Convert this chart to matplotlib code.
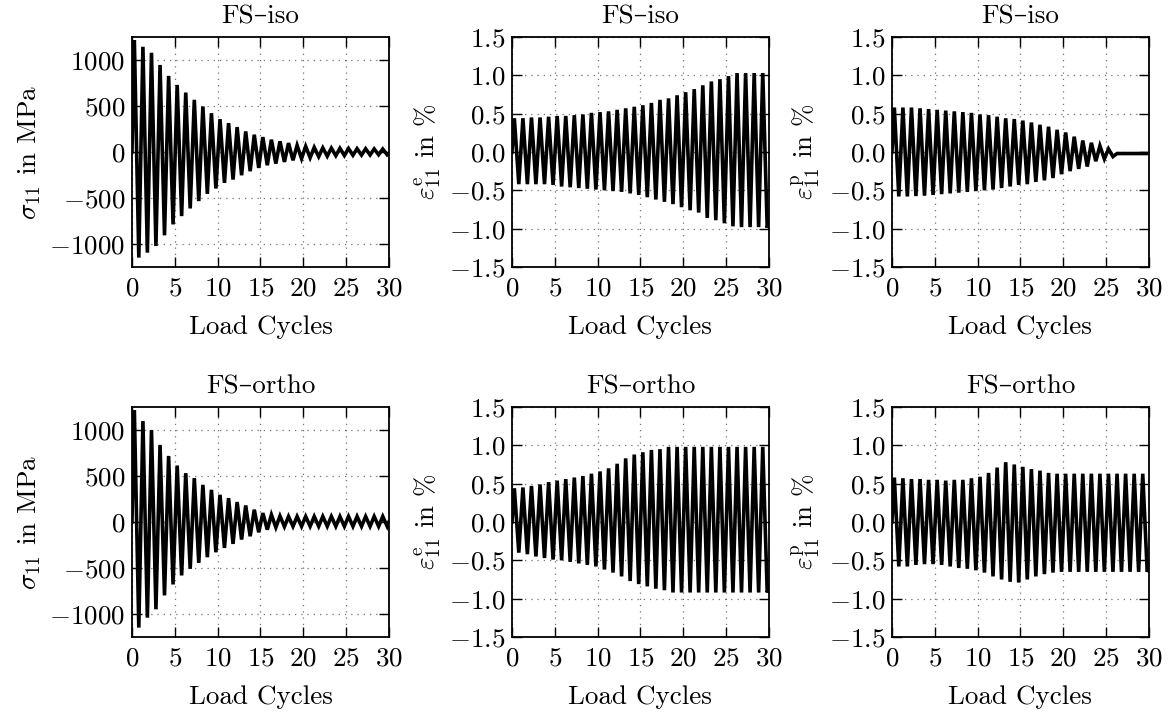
import matplotlib
matplotlib.use('Agg')
import matplotlib.pyplot as plt
import numpy as np

plt.rcParams.update({
    'font.family': ['cmr10', 'DejaVu Serif'],
    'mathtext.fontset': 'cm',
    'axes.formatter.use_mathtext': True,
    'font.size': 19.5,
    'axes.linewidth': 1.3,
    'xtick.direction': 'in',
    'ytick.direction': 'in',
    'xtick.top': True,
    'ytick.right': True,
    'xtick.major.size': 7,
    'ytick.major.size': 7,
    'xtick.major.width': 1.0,
    'ytick.major.width': 1.0,
    'xtick.major.pad': 7,
    'ytick.major.pad': 5,
})

# peak / valley values per load cycle, plus end value at cycle 30
sig_iso_max = [1217, 1144, 1079, 946, 827, 729, 646, 567, 495, 422,
               357, 314, 271, 224, 188, 162, 134, 116, 97, 72,
               61, 50, 45, 42, 40, 38, 36, 35, 33, 32]
sig_iso_min = [-1148, -1094, -1022, -906, -787, -697, -614, -534, -455, -397,
               -336, -300, -253, -209, -173, -144, -126, -108, -90, -72,
               -62, -50, -45, -40, -38, -35, -33, -32, -30, -30]
sig_iso_end = -15

epe_iso_max = [0.44, 0.44, 0.45, 0.45, 0.46, 0.47, 0.47, 0.48, 0.49, 0.51,
               0.52, 0.53, 0.55, 0.57, 0.59, 0.61, 0.64, 0.68, 0.70, 0.74,
               0.78, 0.82, 0.87, 0.92, 0.95, 0.99, 1.03, 1.03, 1.03, 1.03]
epe_iso_min = [-0.42, -0.42, -0.42, -0.42, -0.43, -0.45, -0.46, -0.47, -0.48, -0.49,
               -0.50, -0.51, -0.52, -0.54, -0.56, -0.59, -0.62, -0.65, -0.68, -0.72,
               -0.76, -0.79, -0.86, -0.89, -0.93, -0.97, -0.98, -0.98, -0.98, -0.99]
epe_iso_end = -0.9

epp_iso_max = [0.58, 0.58, 0.58, 0.57, 0.56, 0.55, 0.54, 0.53, 0.52, 0.51,
               0.49, 0.48, 0.46, 0.44, 0.43, 0.41, 0.385, 0.355, 0.33, 0.29,
               0.255, 0.20, 0.15, 0.12, 0.08, 0.04, -0.02, -0.02, -0.02, -0.02]
epp_iso_min = [-0.58, -0.58, -0.575, -0.57, -0.56, -0.55, -0.54, -0.53, -0.52, -0.51,
               -0.50, -0.49, -0.47, -0.45, -0.43, -0.42, -0.39, -0.37, -0.34, -0.29,
               -0.25, -0.22, -0.19, -0.12, -0.09, -0.06, -0.02, -0.02, -0.02, -0.02]
epp_iso_end = -0.02

sig_ort_max = [1217, 1097, 1000, 838, 718, 614, 531, 477, 404, 350,
               296, 260, 217, 180, 134, 97, 79, 65, 60, 60,
               60, 60, 60, 60, 60, 60, 60, 60, 60, 60]
sig_ort_min = [-1148, -1040, -949, -798, -679, -581, -509, -444, -383, -329,
               -282, -238, -191, -155, -112, -83, -58, -50, -47, -47,
               -47, -47, -47, -47, -47, -47, -47, -47, -47, -47]
sig_ort_end = 0

epe_ort_max = [0.44, 0.45, 0.47, 0.49, 0.52, 0.54, 0.56, 0.58, 0.60, 0.63,
               0.66, 0.70, 0.76, 0.83, 0.88, 0.91, 0.94, 0.95, 0.98, 0.98,
               0.98, 0.98, 0.98, 0.98, 0.98, 0.98, 0.98, 0.98, 0.98, 0.98]
epe_ort_min = [-0.40, -0.42, -0.45, -0.47, -0.49, -0.50, -0.52, -0.54, -0.56, -0.58,
               -0.62, -0.66, -0.71, -0.77, -0.81, -0.84, -0.87, -0.89, -0.92, -0.92,
               -0.92, -0.92, -0.92, -0.92, -0.92, -0.92, -0.92, -0.92, -0.92, -0.92]
epe_ort_end = -0.85

epp_ort_max = [0.58, 0.57, 0.56, 0.56, 0.55, 0.55, 0.54, 0.55, 0.55, 0.57,
               0.59, 0.64, 0.71, 0.78, 0.75, 0.72, 0.69, 0.67, 0.64, 0.63,
               0.63, 0.63, 0.63, 0.63, 0.63, 0.63, 0.63, 0.63, 0.63, 0.63]
epp_ort_min = [-0.58, -0.58, -0.56, -0.55, -0.55, -0.56, -0.58, -0.60, -0.61, -0.63,
               -0.66, -0.71, -0.75, -0.78, -0.79, -0.75, -0.71, -0.68, -0.66, -0.65,
               -0.65, -0.65, -0.65, -0.65, -0.65, -0.65, -0.65, -0.65, -0.65, -0.65]
epp_ort_end = -0.6

titles = ['FS\u2013iso', 'FS\u2013ortho']
ylabels = [r'$\sigma_{11}$ in MPa', r'$\varepsilon^{\mathrm{e}}_{11}$ in %',
           r'$\varepsilon^{\mathrm{p}}_{11}$ in %']


def wave(vmax, vmin, vend):
    # one peak and one valley per load cycle
    x, y = [0.0], [0.0]
    for i in range(len(vmax)):
        x += [i + 0.28, i + 0.8]
        y += [vmax[i], vmin[i]]
    x.append(30.0)
    y.append(vend)
    return x, y


data = [[(sig_iso_max, sig_iso_min, sig_iso_end),
         (epe_iso_max, epe_iso_min, epe_iso_end),
         (epp_iso_max, epp_iso_min, epp_iso_end)],
        [(sig_ort_max, sig_ort_min, sig_ort_end),
         (epe_ort_max, epe_ort_min, epe_ort_end),
         (epp_ort_max, epp_ort_min, epp_ort_end)]]

fig = plt.figure(figsize=(11.75, 7.2), dpi=100)
lefts = [0.1123, 0.4357, 0.7591]
bottoms = [0.6292, 0.1153]
w, h = 0.2187, 0.3194

for r in range(2):
    for c in range(3):
        ax = fig.add_axes([lefts[c], bottoms[r], w, h])
        x, y = wave(*data[r][c])
        ax.plot(x, y, color='k', lw=2.6, solid_joinstyle='miter')
        ax.set_xlim(0, 30)
        ax.set_xticks(np.arange(0, 31, 5))
        if c == 0:
            ax.set_ylim(-1250, 1250)
            ax.set_yticks([-1000, -500, 0, 500, 1000])
        else:
            ax.set_ylim(-1.5, 1.5)
            ax.set_yticks(np.arange(-1.5, 1.51, 0.5))
        ax.grid(True, color='0.45', linestyle=(0, (1, 4)), lw=0.9)
        ax.set_axisbelow(True)
        ax.set_title(titles[r], fontsize=19.5, pad=10)
        ax.set_ylabel(ylabels[c], labelpad=4)
        ax.set_xlabel('Load Cycles', labelpad=11)

plt.savefig('out.png', dpi=100)
